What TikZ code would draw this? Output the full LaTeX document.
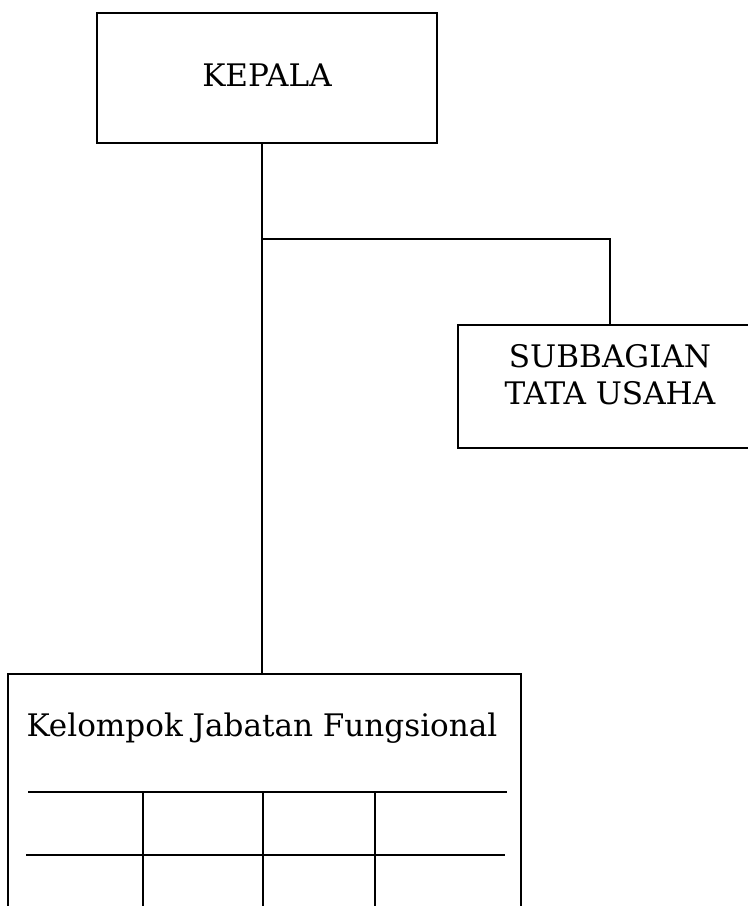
\documentclass[tikz,border=0pt]{standalone}
\usepackage{fontspec}
\setmainfont{DejaVu Serif}
\usepackage{tikz}
\usetikzlibrary{positioning}
\tikzset{>=latex}
\tikzset{unitbox/.style={draw, rectangle, line width=1.4pt, inner sep=0pt}}
\tikzset{unittext/.style={font=\fontsize{23.3}{27.75}\selectfont, align=center, inner sep=0pt}}

\begin{document}
\begin{tikzpicture}[x=0.75pt, y=-0.75pt, line width=1.4pt]
  \useasboundingbox (0,0) rectangle (748,906);
  \clip (0,0) rectangle (748,906);
  % boxes
  \node[unitbox, minimum width=255pt, minimum height=97.5pt] (kepala) at (267,78) {};
  \node[unittext, anchor=base] (kepalatext) at (267,87) {KEPALA};
  \node[unitbox, anchor=north, minimum width=228pt, minimum height=92.25pt] (tu) at (610,324) {};
  \node[unittext, anchor=north] (tutext) at (610,344) {SUBBAGIAN\\TATA USAHA};
  \node[unitbox, anchor=north, minimum width=384.75pt, minimum height=245.25pt] (jf) at (264.5,673) {};
  \node[unittext, anchor=base] (jftext) at (262,736) {Kelompok Jabatan Fungsional};
  % connectors
  \coordinate (trunk) at (262,239);
  \draw (kepala.south -| trunk) -- (trunk |- jf.north);
  \draw (trunk) -- (trunk -| tu.north) -- (tu.north);
  % table
  \draw (28,792) -- (507,792);
  \draw (26,855) -- (505,855);
  \foreach \x in {143,263,375}
    \draw (\x,792) -- (\x,920);
\end{tikzpicture}
\end{document}
